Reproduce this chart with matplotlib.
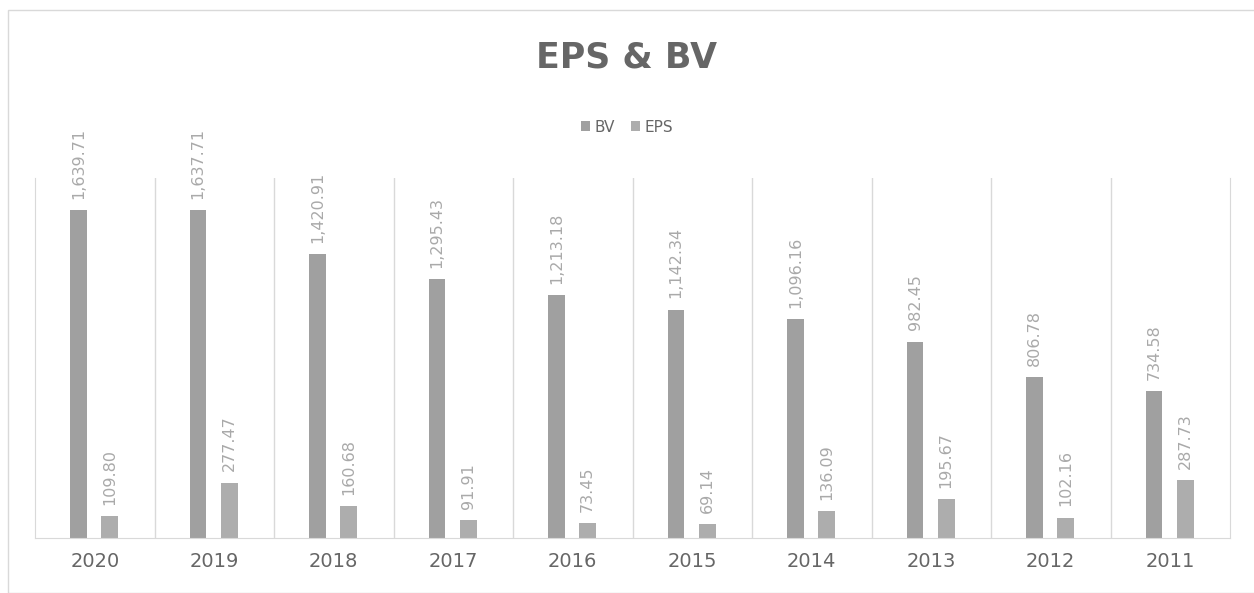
import matplotlib.pyplot as plt
import numpy as np
from matplotlib.patches import Rectangle

years = ["2020", "2019", "2018", "2017", "2016", "2015", "2014", "2013", "2012", "2011"]
bv = [1639.71, 1637.71, 1420.91, 1295.43, 1213.18, 1142.34, 1096.16, 982.45, 806.78, 734.58]
eps = [109.80, 277.47, 160.68, 91.91, 73.45, 69.14, 136.09, 195.67, 102.16, 287.73]

bv_color = "#a0a0a0"
eps_color = "#adadad"
label_color = "#a9a9a9"
text_color = "#666666"
grid_color = "#d9d9d9"

fig = plt.figure(figsize=(12.54, 5.93), dpi=100)
ax = fig.add_axes([35 / 1254, 1 - 538 / 593, (1230 - 35) / 1254, (538 - 178) / 593])

x = np.arange(len(years))
w = 0.14
b1 = ax.bar(x - 0.135, bv, width=w, color=bv_color, label="BV")
b2 = ax.bar(x + 0.125, eps, width=w, color=eps_color, label="EPS")

for bars, vals in ((b1, bv), (b2, eps)):
    for r, v in zip(bars, vals):
        ax.annotate(f"{v:,.2f}", (r.get_x() + r.get_width() / 2, v),
                    xytext=(0, 8), textcoords="offset points",
                    rotation=90, ha="center", va="bottom",
                    fontsize=11.5, color=label_color, annotation_clip=False)

ax.set_xlim(-0.5, len(years) - 0.5)
ax.set_ylim(0, 1800)
ax.set_yticks([])
ax.set_xticks(x)
ax.set_xticklabels(years, fontsize=14, color=text_color)
ax.tick_params(axis="x", length=0, pad=10)
for b in np.arange(0.5, len(years) - 1, 1):
    ax.axvline(b, color=grid_color, lw=1, zorder=0)
ax.spines["top"].set_visible(False)
for s in ("left", "right", "bottom"):
    ax.spines[s].set_color(grid_color)

fig.text(0.5, 1 - 57 / 593, "EPS & BV", ha="center", va="center",
         fontsize=25, fontweight="bold", color=text_color)
fig.legend(loc="center", bbox_to_anchor=(0.5, 1 - 127 / 593), ncol=2, frameon=False,
           fontsize=11, labelcolor=text_color, handlelength=0.6, handleheight=0.6,
           handletextpad=0.3, columnspacing=1.0)

fig.patches.append(Rectangle((8 / 1254, 0), 1, 1 - 10 / 593, transform=fig.transFigure,
                             fill=False, edgecolor=grid_color, lw=1))

fig.savefig("out.png", dpi=100)
